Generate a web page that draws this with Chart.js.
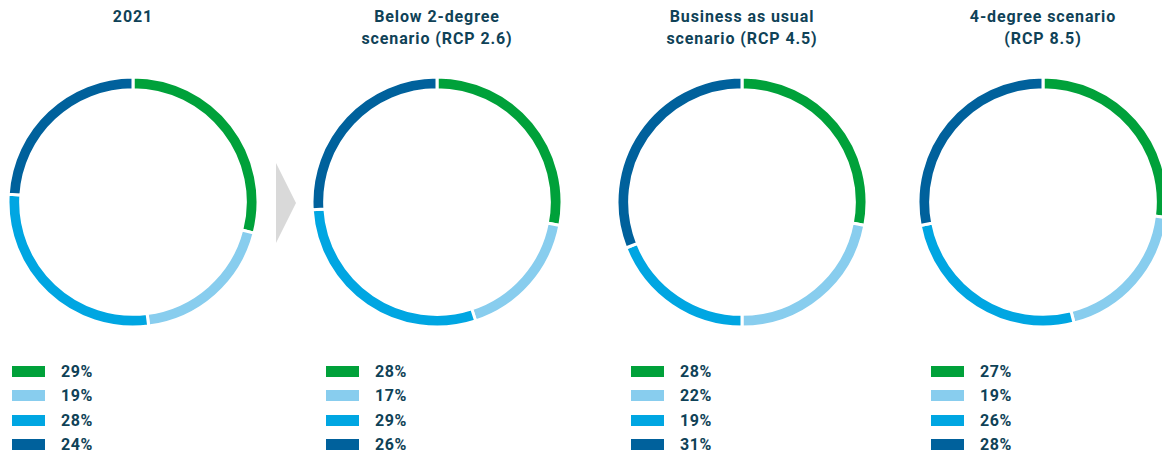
<!DOCTYPE html>
<html>
<head>
<meta charset="utf-8">
<script src="https://cdn.jsdelivr.net/npm/chart.js@4"></script>
<style>
  html, body { margin: 0; padding: 0; background: #fff; }
  body { width: 1162px; height: 457px; position: relative; overflow: hidden;
         font-family: Roboto, "DejaVu Sans", sans-serif; color: #0f4257; }
  .title { position: absolute; top: 6px; width: 260px; text-align: center;
           font-weight: bold; font-size: 16px; line-height: 22px; letter-spacing: 0.9px; }
  .ring { position: absolute; top: 77px; }
  .legend { position: absolute; top: 359px; }
  .row { height: 24.5px; display: flex; align-items: center; font-weight: bold;
         font-size: 16px; letter-spacing: 0.6px; }
  .swatch { width: 33px; height: 11px; margin-right: 16px; }
  .arrow { position: absolute; left: 276px; top: 163px; width: 0; height: 0;
           border-top: 40px solid transparent; border-bottom: 40px solid transparent;
           border-left: 20px solid #d9d9d9; }
</style>
</head>
<body>
<div class="arrow"></div>
<script>
const scenarios = ["2021", "Below 2-degree\nscenario (RCP 2.6)", "Business as usual\nscenario (RCP 4.5)", "4-degree scenario\n(RCP 8.5)"];
const share2021 = [29, 19, 28, 24];
const shareRcp26 = [28, 17, 29, 26];
const shareRcp45 = [28, 22, 19, 31];
const shareRcp85 = [27, 19, 26, 28];
const segmentColors = ["#00a13a", "#88cdee", "#00a6e2", "#00619c"];

const allShares = [share2021, shareRcp26, shareRcp45, shareRcp85];
const centers = [133, 437, 742, 1043];
const legendLeft = [12, 326, 631, 931];

allShares.forEach((values, i) => {
    const cx = centers[i];

    const title = document.createElement("div");
    title.className = "title";
    title.style.left = (cx - 130) + "px";
    title.innerHTML = scenarios[i].replace("\n", "<br>");
    document.body.appendChild(title);

    const canvas = document.createElement("canvas");
    canvas.className = "ring";
    canvas.width = 250;
    canvas.height = 250;
    canvas.style.left = (cx - 125) + "px";
    document.body.appendChild(canvas);

    new Chart(canvas.getContext("2d"), {
        type: "doughnut",
        data: {
            labels: values.map(v => v + "%"),
            datasets: [{
                data: values,
                backgroundColor: segmentColors,
                borderColor: "#ffffff",
                borderWidth: 3
            }]
        },
        options: {
            responsive: false,
            animation: false,
            radius: 125,
            cutout: 111,
            plugins: { legend: { display: false }, tooltip: { enabled: false } }
        }
    });

    // percentage list under each ring
    const legend = document.createElement("div");
    legend.className = "legend";
    legend.style.left = legendLeft[i] + "px";
    values.forEach((v, k) => {
        const row = document.createElement("div");
        row.className = "row";
        row.innerHTML = '<div class="swatch" style="background:' + segmentColors[k] + '"></div>' + v + "%";
        legend.appendChild(row);
    });
    document.body.appendChild(legend);
});
</script>
</body>
</html>
